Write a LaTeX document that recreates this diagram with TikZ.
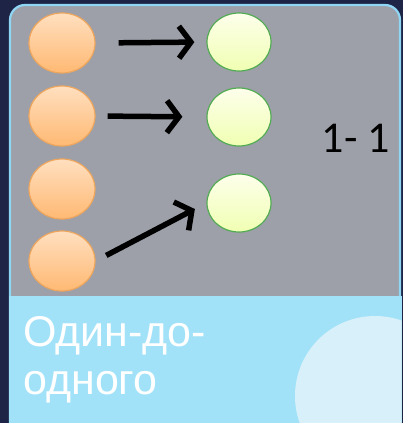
\documentclass[tikz,border=0pt]{standalone}
\usepackage{fontspec}
\setmainfont{Liberation Sans}
\newfontfamily\calfont{Carlito}
\usetikzlibrary{shapes.geometric,arrows.meta}

\definecolor{navybg}{HTML}{1D2445}
\definecolor{cardgray}{HTML}{9DA0A8}
\definecolor{cardedge}{HTML}{8FD6F4}
\definecolor{lowblue}{HTML}{A2E2F8}
\definecolor{paleblue}{HTML}{D8F0FA}

\tikzset{
  srcball/.style={ellipse, draw=orange!60!brown!70, line width=1.2pt, minimum width=66pt, minimum height=60pt,
    inner sep=0pt, top color=orange!25!white, bottom color=orange!55!white},
  dstball/.style={ellipse, draw=green!35!gray, line width=1.2pt, minimum width=64pt, minimum height=58pt,
    inner sep=0pt, top color=green!8!yellow!8!white, bottom color=green!20!yellow!30!white},
  maparrow/.style={line width=5.5pt, -{Straight Barb[length=12pt,width=32pt,line width=5.5pt]}}
}

\begin{document}
\begin{tikzpicture}[x=1pt,y=-1pt]
        \useasboundingbox (0,0) rectangle (403,423);
        % backdrop
        \fill[navybg] (0,0) rectangle (403,423);

        % card
        \draw[fill=cardgray, draw=cardedge, line width=2.2pt, rounded corners=15pt] (10,5) rectangle (400,460);
        \fill[lowblue] (9,296) rectangle (401.5,423);
        \begin{scope}
          \clip (9,296) rectangle (401.5,423);
          \fill[paleblue] (375,396) circle (80);
        \end{scope}

        % source elements
        \node[srcball] (o1) at (62,43) {};
        \node[srcball] (o2) at (62,116) {};
        \node[srcball] (o3) at (62,189) {};
        \node[srcball] (o4) at (62,261) {};

        % target elements
        \node[dstball] (g1) at (239,42) {};
        \node[dstball] (g2) at (239,117) {};
        \node[dstball] (g3) at (239,203) {};

        % mapping
        \draw[maparrow, shorten <=23pt, shorten >=12pt] (o1.east) -- (g1.west);
        \draw[maparrow, shorten <=12pt, shorten >=24pt] (o2.east) -- (g2.west);
        \draw[maparrow, shorten <=12pt, shorten >=13pt] (o4.east) -- (g3.west);

        % labels
        \node[font=\calfont\fontsize{44}{46}\selectfont] (ratio) at (356,138) {1- 1};
        \node[white, anchor=north west, align=left, inner sep=0pt,
              font=\fontsize{43}{48}\selectfont] (title) at (23,316) {Один-до-\\одного};
    \end{tikzpicture}
\end{document}
